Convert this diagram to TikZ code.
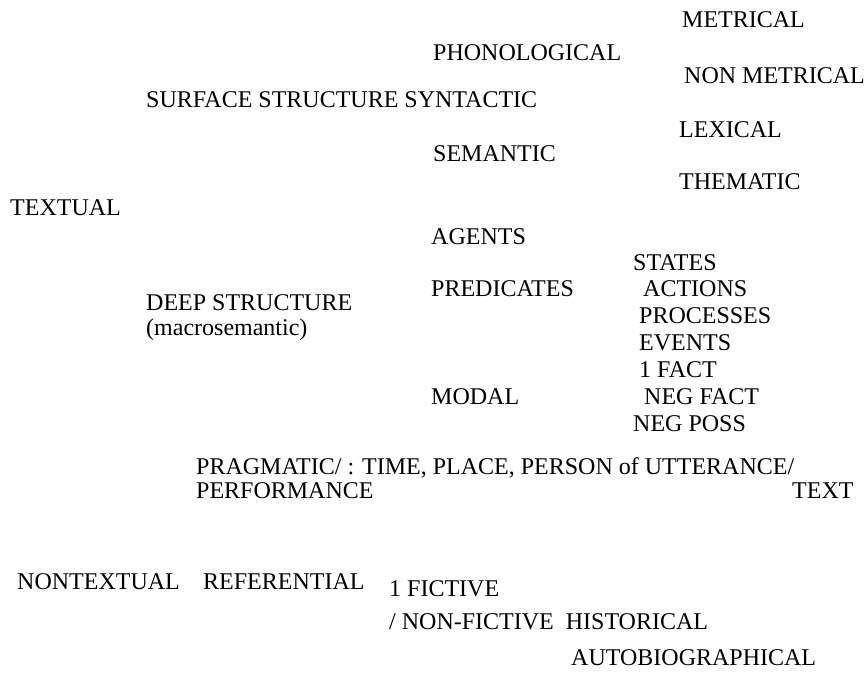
\documentclass[tikz,border=0pt]{standalone}
\usepackage{fontspec}
\setmainfont{Liberation Serif}
\usepackage{tikz}

\tikzset{
  lbl/.style={anchor=base west, inner sep=0pt, font=\fontsize{24}{28}\selectfont}
}

\begin{document}
\begin{tikzpicture}[x=1pt, y=-1pt]
    \useasboundingbox (0,0) rectangle (867,673);
    % surface structure
    \node[lbl] (metrical) at (682,27) {METRICAL};
    \node[lbl] (phono) at (433,60) {PHONOLOGICAL};
    \node[lbl] (nonmetrical) at (684,83) {NON METRICAL};
    \node[lbl] (surface) at (146,107) {SURFACE STRUCTURE SYNTACTIC};
    \node[lbl] (lexical) at (679,137) {LEXICAL};
    \node[lbl] (semantic) at (433,161) {SEMANTIC};
    \node[lbl] (thematic) at (679,189) {THEMATIC};
    \node[lbl] (textual) at (10,215) {TEXTUAL};
    % deep structure
    \node[lbl] (agents) at (431,244) {AGENTS};
    \node[lbl] (states) at (633,270) {STATES};
    \node[lbl] (predicates) at (431,296) {PREDICATES};
    \node[lbl] (actions) at (643,296) {ACTIONS};
    \node[lbl] (deep) at (146,310) {DEEP STRUCTURE};
    \node[lbl] (macro) at (146,335) {(macrosemantic)};
    \node[lbl] (processes) at (639,323) {PROCESSES};
    \node[lbl] (events) at (639,350) {EVENTS};
    \node[lbl] (fact) at (639,377) {1 FACT};
    \node[lbl] (modal) at (431,404) {MODAL};
    \node[lbl] (negfact) at (644,404) {NEG FACT};
    \node[lbl] (negposs) at (633,431) {NEG POSS};
    % pragmatic
    \node[lbl] (pragmatic) at (196,474) {PRAGMATIC/ : TIME, PLACE, PERSON of UTTERANCE/};
    \node[lbl] (performance) at (196,498) {PERFORMANCE};
    \node[lbl] (text) at (792,498) {TEXT};
    % nontextual
    \node[lbl] (nontextual) at (17,589) {NONTEXTUAL};
    \node[lbl] (referential) at (203,589) {REFERENTIAL};
    \node[lbl] (fictive) at (389,596) {1 FICTIVE};
    \node[lbl] (nonfictive) at (389,629) {/ NON-FICTIVE\ \ HISTORICAL};
    \node[lbl] (autobio) at (571,665) {AUTOBIOGRAPHICAL};
\end{tikzpicture}
\end{document}
